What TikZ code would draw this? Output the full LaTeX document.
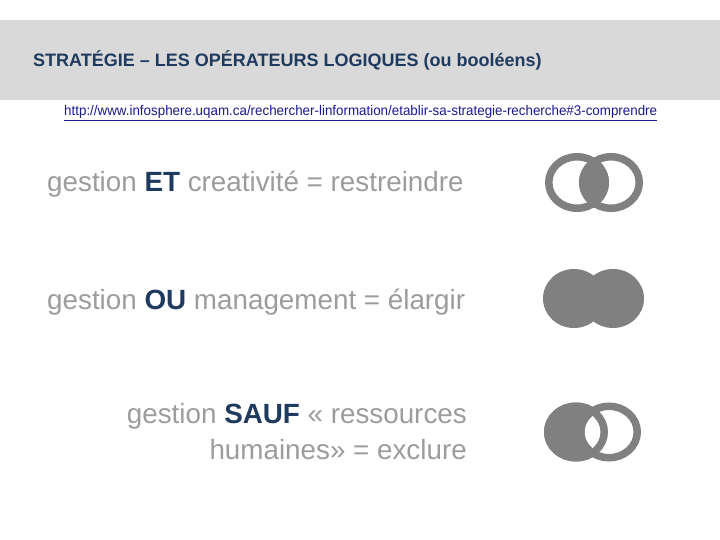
\documentclass[tikz,border=0pt]{standalone}
\usepackage{fontspec}
\setmainfont{Liberation Sans}
\definecolor{band}{HTML}{D9D9D9}
\definecolor{navy}{HTML}{1F3A5F}
\definecolor{urlc}{HTML}{1A1A8C}
\definecolor{txt}{HTML}{9C9C9C}
\definecolor{ring}{HTML}{808080}
\tikzset{
  rowtext/.style={inner sep=0pt, text=txt, font=\fontsize{27.8}{36}\selectfont},
  ringline/.style={draw=ring, line width=7.5pt}
}
\newcommand{\opw}[1]{\textcolor{navy}{\textbf{#1}}}
\begin{document}
\begin{tikzpicture}[x=1pt,y=-1pt]
\useasboundingbox (0,0) rectangle (720,540);
\fill[band] (0,20) rectangle (720,100);
\node[anchor=base west, inner sep=0pt, text=navy, font=\bfseries\fontsize{18}{21}\selectfont] (title) at (33,67) {STRATÉGIE – LES OPÉRATEURS LOGIQUES (ou booléens)};
\node[anchor=base west, inner sep=0pt, text=urlc, font=\fontsize{14}{16}\selectfont] (url) at (64,116) {\resizebox{593pt}{\height}{\underline{http://www.infosphere.uqam.ca/rechercher-linformation/etablir-sa-strategie-recherche\#3-comprendre}}};
% rows
\node[rowtext, anchor=base west] (t1) at (47,192) {gestion \opw{ET} creativité = restreindre};
\node[rowtext, anchor=base west] (t2) at (47,309) {gestion \opw{OU} management = élargir};
\node[rowtext, anchor=base east, align=right] (t3) at (467,459) {gestion \opw{SAUF} « ressources\\humaines» = exclure};
% ET
\begin{scope}
  \clip (577,182.5) ellipse [x radius=32, y radius=29.5];
  \fill[ring] (611,182.5) ellipse [x radius=32, y radius=29.5];
\end{scope}
\draw[ringline] (577,182.5) ellipse [x radius=28.25, y radius=25.75];
\draw[ringline] (611,182.5) ellipse [x radius=28.25, y radius=25.75];
% OU
\fill[ring] (574,298.5) ellipse [x radius=31, y radius=29.5];
\fill[ring] (613,298.5) ellipse [x radius=31, y radius=29.5];
% SAUF
\fill[ring] (576,432) ellipse [x radius=32, y radius=29.5];
\fill[white] (609,432) ellipse [x radius=24.5, y radius=22];
\draw[ringline] (576,432) ellipse [x radius=28.25, y radius=25.75];
\draw[ringline] (609,432) ellipse [x radius=28.25, y radius=25.75];
\end{tikzpicture}
\end{document}
